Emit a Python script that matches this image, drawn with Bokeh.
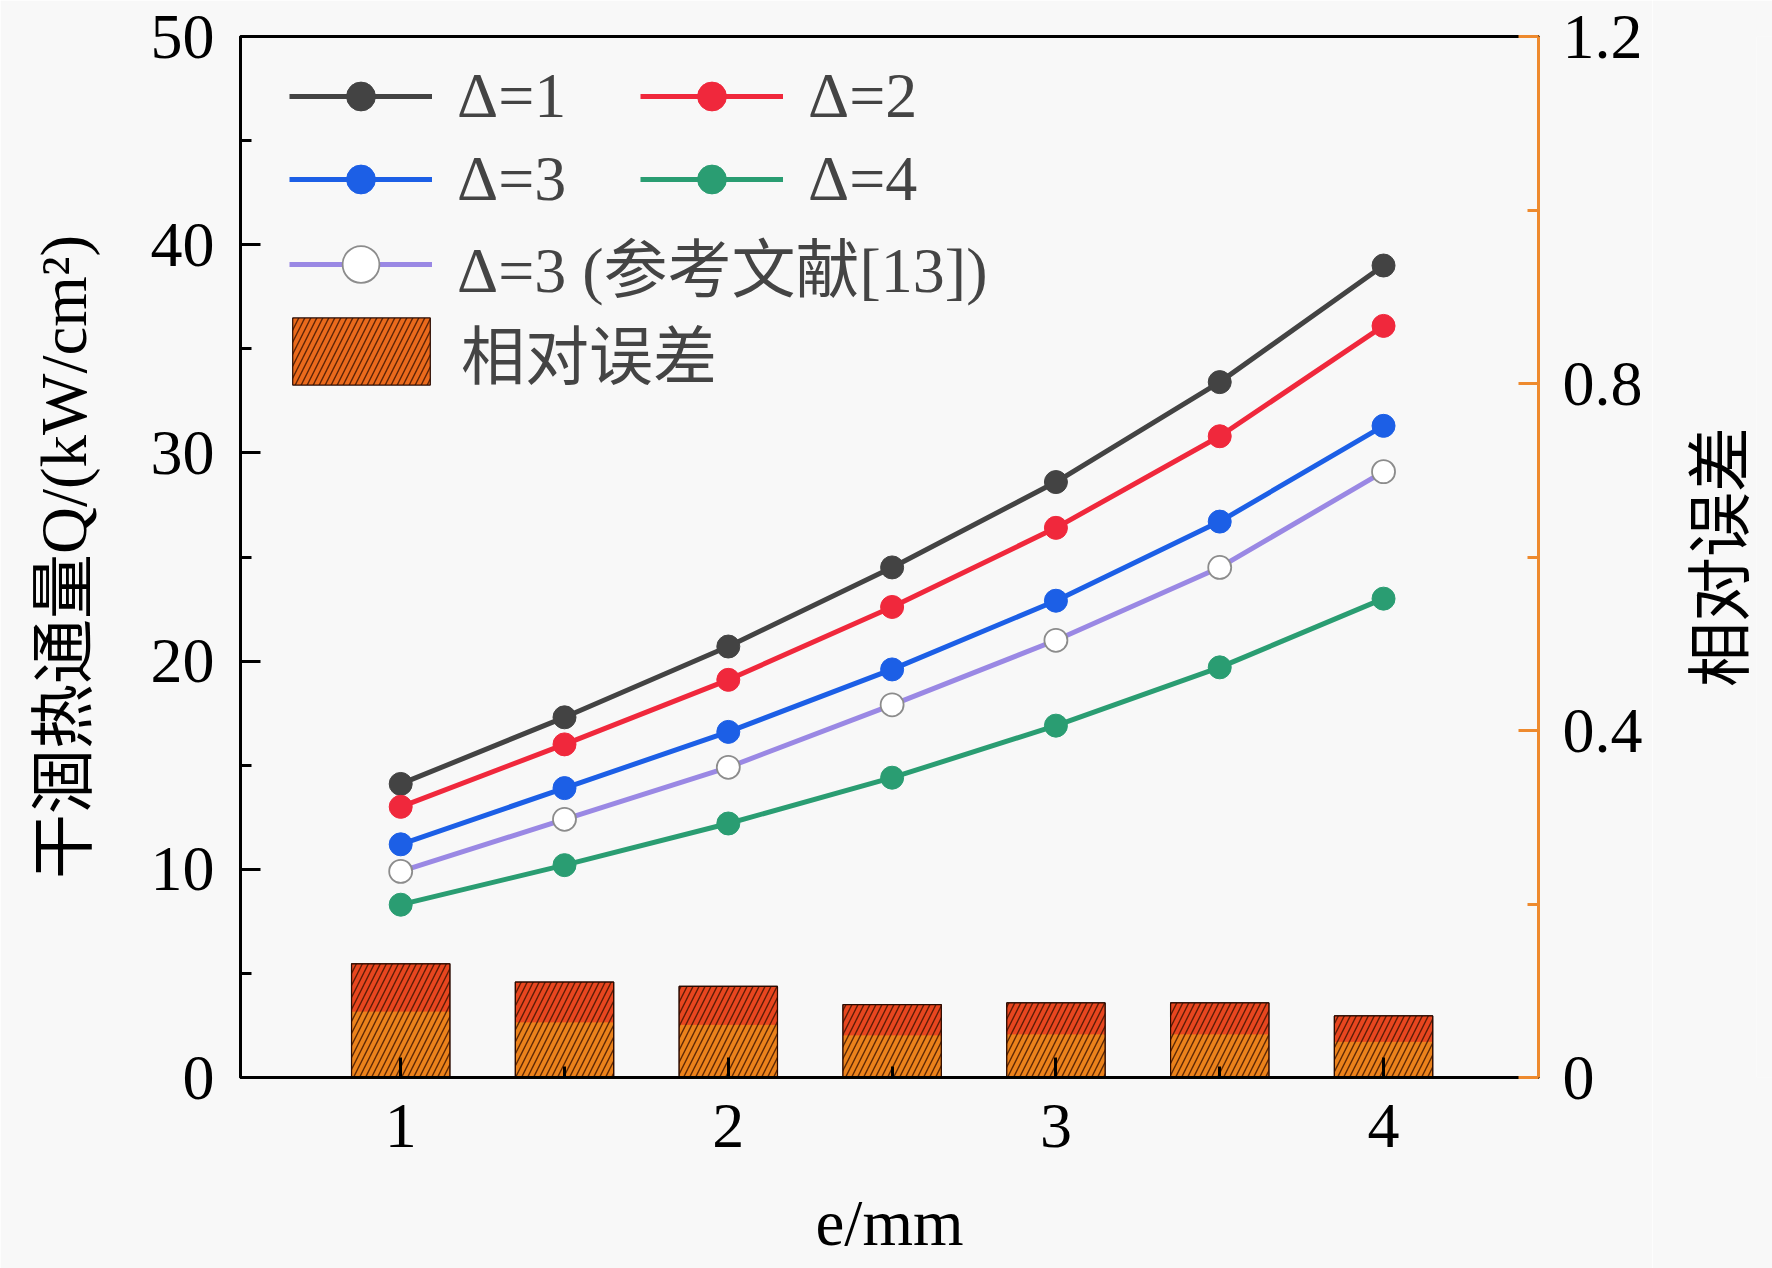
import math
from bokeh.plotting import figure
from bokeh.layouts import row
from bokeh.models import (Range1d, LinearAxis, FixedTicker, Legend, LegendItem,
                          ColumnDataSource)
from bokeh.embed import file_html
from bokeh.resources import INLINE

# ---------------- data ----------------
e_mm = [1.0, 1.5, 2.0, 2.5, 3.0, 3.5, 4.0]
q_d1 = [14.1, 17.3, 20.7, 24.5, 28.6, 33.4, 39.0]
q_d2 = [13.0, 16.0, 19.1, 22.6, 26.4, 30.8, 36.1]
q_d3 = [11.2, 13.9, 16.6, 19.6, 22.9, 26.7, 31.3]
q_d4 = [8.3, 10.2, 12.2, 14.4, 16.9, 19.7, 23.0]
q_ref = [9.9, 12.4, 14.9, 17.9, 21.0, 24.5, 29.1]
rel_err = [0.131, 0.110, 0.105, 0.084, 0.086, 0.086, 0.071]

series_labels = ["Δ=1", "Δ=2", "Δ=3", "Δ=4"]
ref_label = "Δ=3 (参考文献[13])"
err_label = "相对误差"
x_label = "e/mm"
y_label = "干涸热通量Q/(kW/cm²)"
x_ticks = [1, 2, 3, 4]
x_minor = [1.5, 2.5, 3.5]
y_ticks = [0, 10, 20, 30, 40, 50]
y_minor = [5, 15, 25, 35, 45]
r_ticks = [0, 0.4, 0.8, 1.2]
r_minor = [0.2, 0.6, 1.0]
r_tick_labels = ["0", "0.4", "0.8", "1.2"]

FONT = "Liberation Serif, Noto Sans CJK SC"
TICK_FS = "64px"
LAB_FS = "65px"
LEG_FS = "64px"
ORANGE = "#ee8a2e"
BG = "#f8f8f8"
SIDE_W = 120   # narrow strip on the right that carries the right-hand title

p = figure(width=1772 - SIDE_W, height=1268, output_backend="svg",
           toolbar_location=None,
           x_range=Range1d(0.511, 4.473), y_range=Range1d(0, 50),
           min_border_left=240, min_border_right=234 - SIDE_W, min_border_top=36,
           min_border_bottom=191)
p.background_fill_color = BG
p.border_fill_color = BG
p.grid.visible = False
p.outline_line_color = "black"
p.outline_line_width = 3
p.extra_y_ranges = {"err": Range1d(0, 1.2)}

# ---------------- bars (relative error) ----------------
bar_w = 0.30
split = [v * 0.58 for v in rel_err]
src_bar = ColumnDataSource(dict(x=e_mm, top=rel_err, split=split,
                                zero=[0] * len(e_mm)))
hatch_kw = dict(hatch_pattern="/", hatch_color="#3a1200", hatch_alpha=0.8,
                hatch_scale=12, hatch_weight=1.4)
# full bar in the blended colour (used for the legend swatch)
leg_bar = p.vbar(x="x", width=bar_w, bottom="zero", top="top", source=src_bar,
                 y_range_name="err", fill_color="#ea6a1c",
                 line_color="#2a0a00", line_width=1.2, **hatch_kw)
p.vbar(x="x", width=bar_w, bottom="zero", top="split", source=src_bar,
       y_range_name="err", fill_color="#eb821b", line_color=None)
p.vbar(x="x", width=bar_w, bottom="split", top="top", source=src_bar,
       y_range_name="err", fill_color="#e8461f", line_color=None)
p.vbar(x="x", width=bar_w, bottom="zero", top="top", source=src_bar,
       y_range_name="err", fill_alpha=0, line_color="#2a0a00", line_width=1.2,
       **hatch_kw)

# ---------------- lines ----------------
colors = ["#434343", "#f0283c", "#1c5fe6", "#2a9d72"]
renders = []
for ys, c in zip([q_d1, q_d2, q_d3, q_d4], colors):
    l = p.line(e_mm, ys, line_color=c, line_width=5)
    s = p.scatter(e_mm, ys, size=23, fill_color=c, line_color=c, line_width=1)
    renders.append([l, s])
l_ref = p.line(e_mm, q_ref, line_color="#9a88e4", line_width=5)
s_ref = p.scatter(e_mm, q_ref, size=23, fill_color="white", line_color="#8c8c8c",
                  line_width=1.8)

# ---------------- axes ----------------
def style_axis(ax, color="black"):
    ax.axis_line_width = 3
    ax.axis_line_color = color
    ax.major_tick_line_color = color
    ax.minor_tick_line_color = color
    ax.major_tick_line_width = 3
    ax.minor_tick_line_width = 3
    ax.major_tick_in = 20
    ax.major_tick_out = 0
    ax.minor_tick_in = 11
    ax.minor_tick_out = 0
    ax.major_label_text_font = FONT
    ax.major_label_text_font_size = TICK_FS
    ax.major_label_text_color = "black"
    ax.axis_label_text_font = FONT
    ax.axis_label_text_font_size = LAB_FS
    ax.axis_label_text_font_style = "normal"
    ax.axis_label_text_color = "black"

xa = p.xaxis[0]
style_axis(xa)
xa.ticker = FixedTicker(ticks=x_ticks, minor_ticks=x_minor)
xa.axis_label = x_label
xa.major_label_standoff = 27
xa.axis_label_standoff = 37

ya = p.yaxis[0]
style_axis(ya)
ya.ticker = FixedTicker(ticks=y_ticks, minor_ticks=y_minor)
ya.axis_label = y_label
ya.major_label_standoff = 26
ya.axis_label_standoff = 48

ra = LinearAxis(y_range_name="err")
style_axis(ra, ORANGE)
ra.ticker = FixedTicker(ticks=r_ticks, minor_ticks=r_minor)
ra.major_label_overrides = {t: s for t, s in zip(r_ticks, r_tick_labels)}
ra.major_label_standoff = 24
p.add_layout(ra, "right")

# ---------------- legends ----------------
def style_legend(lg):
    lg.background_fill_alpha = 0
    lg.border_line_alpha = 0
    lg.padding = 0
    lg.margin = 0
    lg.label_text_font = FONT
    lg.label_text_font_size = LEG_FS
    lg.label_standoff = 25
    lg.glyph_width = 143

items1 = [LegendItem(label=lab, renderers=r) for lab, r in zip(series_labels, renders)]
lg1 = Legend(items=items1, orientation="horizontal", ncols=2)
style_legend(lg1)
lg1.glyph_height = 72
lg1.spacing = 9
lg1.label_width = 174
lg1.location = (49, 861)
p.add_layout(lg1, "center")

lg2 = Legend(items=[LegendItem(label=ref_label, renderers=[l_ref, s_ref])])
style_legend(lg2)
lg2.glyph_height = 92
lg2.location = (49, 767)
p.add_layout(lg2, "center")

lg3 = Legend(items=[LegendItem(label=err_label, renderers=[leg_bar])])
style_legend(lg3)
lg3.glyph_width = 172
lg3.glyph_height = 84
lg3.label_standoff = 14
lg3.location = (35, 680)
p.add_layout(lg3, "center")

# ---------------- right-hand title strip (reads bottom-to-top) ----------------
p2 = figure(width=SIDE_W, height=1268, output_backend="svg", toolbar_location=None,
            x_range=Range1d(0, 1), y_range=Range1d(0, 1.2),
            min_border_left=104, min_border_right=0, min_border_top=36,
            min_border_bottom=191)
p2.background_fill_color = BG
p2.border_fill_color = BG
p2.outline_line_color = None
p2.grid.visible = False
p2.xaxis.visible = False
ya2 = p2.yaxis[0]
ya2.ticker = FixedTicker(ticks=[])
ya2.axis_line_color = None
ya2.major_tick_line_color = None
ya2.minor_tick_line_color = None
ya2.axis_label = err_label
ya2.axis_label_standoff = 0
ya2.axis_label_text_font = FONT
ya2.axis_label_text_font_size = LAB_FS
ya2.axis_label_text_font_style = "normal"
ya2.axis_label_text_color = "black"

layout = row(p, p2, spacing=0)
open("out.html", "w").write(file_html(layout, INLINE))
